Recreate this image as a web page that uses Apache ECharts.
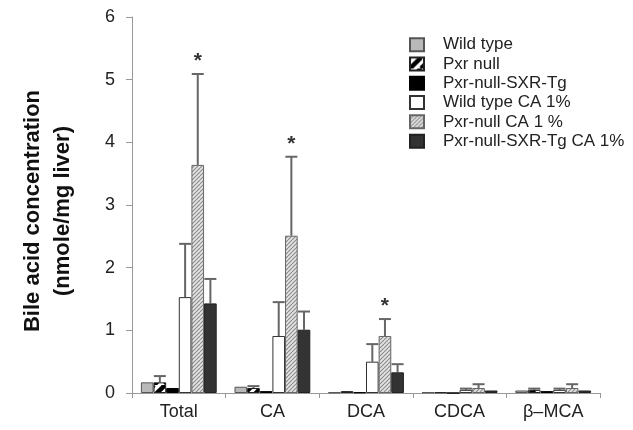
<!DOCTYPE html>
<html>
<head>
<meta charset="utf-8">
<script src="https://cdn.jsdelivr.net/npm/echarts@6/dist/echarts.min.js"></script>
<style>
html,body{margin:0;padding:0;background:#fff;}
#chart{width:633px;height:430px;}
</style>
</head>
<body>
<div id="chart"></div>
<script>
var categories = ['Total', 'CA', 'DCA', 'CDCA', 'β\u2013MCA'];
var yTicks = [0, 1, 2, 3, 4, 5, 6];

var seriesNames = ['Wild type', 'Pxr null', 'Pxr-null-SXR-Tg', 'Wild type CA 1%', 'Pxr-null CA 1 %', 'Pxr-null-SXR-Tg CA 1%'];

var wildType      = [0.17, 0.10, 0.01, 0.01, 0.04];
var pxrNull       = [0.17, 0.08, 0.03, 0.01, 0.05];
var sxrTg         = [0.08, 0.03, 0.01, 0.00, 0.03];
var wildTypeCA    = [1.53, 0.91, 0.50, 0.05, 0.05];
var pxrNullCA     = [3.64, 2.51, 0.91, 0.08, 0.08];
var sxrTgCA       = [1.43, 1.01, 0.33, 0.04, 0.04];

var wildTypeErr   = [0, 0, 0, 0, 0];
var pxrNullErr    = [0.10, 0.03, 0, 0, 0.02];
var sxrTgErr      = [0, 0, 0, 0, 0];
var wildTypeCAErr = [0.85, 0.54, 0.28, 0.02, 0.02];
var pxrNullCAErr  = [1.45, 1.26, 0.27, 0.06, 0.06];
var sxrTgCAErr    = [0.39, 0.29, 0.13, 0, 0];

var stars = ['*', '*', '*', '', ''];

var values = [wildType, pxrNull, sxrTg, wildTypeCA, pxrNullCA, sxrTgCA];
var errors = [wildTypeErr, pxrNullErr, sxrTgErr, wildTypeCAErr, pxrNullCAErr, sxrTgCAErr];

function stripePattern(size, bg, fg, lw) {
  var c = document.createElement('canvas');
  c.width = size; c.height = size;
  var ctx = c.getContext('2d');
  ctx.fillStyle = bg; ctx.fillRect(0, 0, size, size);
  ctx.strokeStyle = fg; ctx.lineWidth = lw;
  for (var k = -1; k <= 1; k++) {
    ctx.beginPath();
    ctx.moveTo(k * size, size);
    ctx.lineTo(k * size + size, 0);
    ctx.stroke();
  }
  return c;
}

var pxrNullPat = { image: stripePattern(11, '#ffffff', '#000000', 4.5), repeat: 'repeat' };
var pxrCAPat = { image: stripePattern(4, '#e2e2e2', '#8a8a8a', 1.1), repeat: 'repeat' };

var fills = ['#b9b9b9', pxrNullPat, '#000000', '#ffffff', pxrCAPat, '#333333'];
var borders = ['#555', '#222', '#000', '#333', '#666', '#222'];
var FONT = '"Liberation Sans", Arial, sans-serif';

var chart = echarts.init(document.getElementById('chart'));

var series = [];
for (var i = 0; i < 6; i++) {
  series.push({
    name: seriesNames[i],
    type: 'bar',
    data: values[i],
    barGap: '0%',
    barCategoryGap: '19%',
    itemStyle: { color: fills[i], borderColor: borders[i], borderWidth: 1 },
    emphasis: { disabled: true }
  });
}

var errData = [];
for (var s = 0; s < 6; s++) {
  for (var c = 0; c < categories.length; c++) {
    errData.push([c, values[s][c], values[s][c] + errors[s][c], s, (s === 4 ? stars[c] : '')]);
  }
}

series.push({
  type: 'custom',
  name: 'err',
  silent: true,
  z: 1,
  data: errData,
  renderItem: function (params, api) {
    var ci = api.value(0);
    var s = api.value(3);
    var top = api.value(2);
    var base = api.value(1);
    var star = errData[params.dataIndex][4];
    var catW = api.size([1, 0])[0];
    var groupW = catW * 0.81;
    var bw = groupW / 6;
    var p0 = api.coord([ci, base]);
    var p1 = api.coord([ci, top]);
    var x = p0[0] - groupW / 2 + bw * (s + 0.5);
    var children = [];
    if (top > base) {
      children.push({ type: 'line', shape: { x1: x, y1: p0[1], x2: x, y2: p1[1] }, style: { stroke: '#666', lineWidth: 2 } });
      children.push({ type: 'line', shape: { x1: x - 6, y1: p1[1], x2: x + 6, y2: p1[1] }, style: { stroke: '#666', lineWidth: 2 } });
    }
    if (star) {
      children.push({ type: 'text', style: { text: star, x: x, y: p1[1] - 2, align: 'center', verticalAlign: 'bottom', fill: '#333', font: 'bold 21px ' + FONT } });
    }
    return { type: 'group', children: children };
  }
});

chart.setOption({
  animation: false,
  backgroundColor: '#ffffff',
  grid: { left: 132, right: 33, top: 17, bottom: 37, containLabel: false },
  legend: {
    data: seriesNames,
    orient: 'vertical',
    left: 404,
    top: 31,
    itemWidth: 14,
    itemHeight: 13,
    itemGap: 2,
    icon: 'rect',
    textStyle: { fontFamily: FONT, fontSize: 17, lineHeight: 17.3, color: '#222', padding: [0, 0, 0, 14] },
    selectedMode: false
  },
  xAxis: {
    type: 'category',
    data: categories,
    axisLine: { lineStyle: { color: '#999', width: 1 } },
    axisTick: { show: true, length: 5, alignWithLabel: false, lineStyle: { color: '#999' } },
    axisLabel: { margin: 10, fontFamily: FONT, fontSize: 18, color: '#222' }
  },
  yAxis: {
    type: 'value',
    min: yTicks[0],
    max: yTicks[yTicks.length - 1],
    interval: 1,
    name: 'Bile acid concentration\n(nmole/mg liver)',
    nameLocation: 'middle',
    nameGap: 54,
    nameTextStyle: { fontFamily: FONT, fontSize: 22, fontWeight: 'bold', color: '#111', lineHeight: 30, padding: [0, 12, 0, 0] },
    axisLine: { show: true, lineStyle: { color: '#999', width: 1 } },
    axisTick: { show: true, length: 6, lineStyle: { color: '#999' } },
    splitLine: { show: false },
    axisLabel: { margin: 17, fontFamily: FONT, fontSize: 18, color: '#222' }
  },
  series: series
});
</script>
</body>
</html>
